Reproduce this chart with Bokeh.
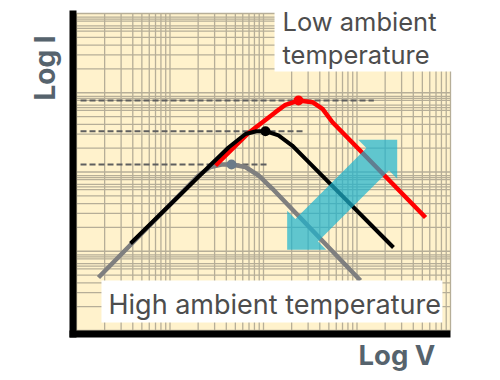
import numpy as np
from bokeh.plotting import figure
from bokeh.models import Range1d
from bokeh.core.properties import value
from bokeh.embed import file_html
from bokeh.resources import INLINE

# ---- data (log V, log I in decades) ----
gray_x = [0.235, 1.166, 1.305, 1.433, 1.551, 1.658, 1.807, 1.947, 2.096, 3.037]
gray_y = [0.669, 1.788, 1.956, 2.063, 2.095, 2.095, 2.063, 1.956, 1.788, 0.631]
black_x = [0.578, 1.444, 1.626, 1.807, 1.925, 2.021, 2.160, 2.307, 2.449, 3.390]
black_y = [1.098, 2.101, 2.309, 2.480, 2.515, 2.515, 2.461, 2.334, 2.166, 1.047]
red_x = [1.487, 1.829, 1.989, 2.128, 2.235, 2.374, 2.524, 2.631, 2.738, 3.733]
red_y = [2.082, 2.482, 2.628, 2.755, 2.848, 2.902, 2.881, 2.797, 2.628, 1.426]

peak_x = [1.658, 2.021, 2.374]
peak_y = [2.095, 2.515, 2.902]
peak_colors = ["#6b7b89", "#000000", "#ff0000"]
dash_start = [0.043, 0.043, 0.043]
dash_end = [2.053, 2.431, 3.180]

arrow_x = [3.430, 3.430, 3.342, 2.583, 2.671, 2.253, 2.253, 2.341, 3.101, 3.013]
arrow_y = [2.406, 1.914, 2.018, 1.122, 1.018, 1.018, 1.510, 1.407, 2.303, 2.406]

decades = [0, 1, 2, 3]
x_minor = [1, 2, 3, 4, 5, 6, 7, 8, 9]
y_minor = [1, 2, 3, 4, 5, 6, 6.5, 7, 8, 8.5, 9]

label_low = ["Low ambient", "temperature"]
label_high = "High ambient temperature"
x_label = "Log V"
y_label = "Log I"

X0, X1 = -0.81283, 4.53476
Y0, Y1 = -0.63091, 4.16404

p = figure(width=500, height=380, x_range=Range1d(X0, X1), y_range=Range1d(Y0, Y1),
           x_axis_type=None, y_axis_type=None, toolbar_location=None,
           output_backend="svg", min_border=0)
p.outline_line_color = None
p.background_fill_color = "white"
p.border_fill_color = "white"

# log paper
p.quad(left=[0], right=[4], bottom=[0], top=[4], fill_color="#fff2cc", line_color=None)
vx = [d + np.log10(k) for d in decades for k in x_minor] + [4.0]
hy = [d + np.log10(k) for d in decades for k in y_minor] + [4.0]
p.segment(x0=vx, y0=[0] * len(vx), x1=vx, y1=[4] * len(vx), line_color="#b6ae98", line_width=1.3)
p.segment(x0=[0] * len(hy), y0=hy, x1=[4] * len(hy), y1=hy, line_color="#b6ae98", line_width=1.3)

# dashed reference lines
p.segment(x0=dash_start, y0=peak_y, x1=dash_end, y1=peak_y, line_color="#5f5f5f",
          line_width=2, line_dash="6 3")

# curves
p.line(gray_x, gray_y, line_color="#7f7f7f", line_width=4.5, line_join="round")
p.line(red_x, red_y, line_color="#ff0000", line_width=4.5, line_join="round")
p.line(black_x, black_y, line_color="#000000", line_width=4, line_join="round")
p.scatter(peak_x, peak_y, size=10, fill_color=peak_colors, line_color=None)

# arrow
p.patch(arrow_x, arrow_y, fill_color="#1db3cf", fill_alpha=0.7, line_color=None)

# white label boxes
p.quad(left=[2.118, 0.267], right=[4.02, 3.914], bottom=[3.268, 0.101], top=[4.03, 0.631],
       fill_color="white", line_color=None)

p.text(x=[2.203, 2.203], y=[3.899, 3.479], text=label_low, text_font=value("Inter"),
       text_font_size="25.5px", text_color="#4d4d4d", text_align="left", text_baseline="alphabetic")
p.text(x=[0.342], y=[0.332], text=[label_high], text_font=value("Inter"),
       text_font_size="27px", text_color="#4d4d4d", text_align="left", text_baseline="alphabetic")

# axes bars
p.quad(left=[-0.0749, -0.0749], right=[0, 4.0], bottom=[-0.0883, -0.0883], top=[4.038, 0],
       fill_color="black", line_color=None)

p.text(x=[3.016], y=[-0.303], text=[x_label], text_font=value("Inter"), text_font_style="bold",
       text_font_size="27.5px", text_color="#56636d", text_align="left", text_baseline="alphabetic")
p.text(x=[-0.342], y=[2.902], text=[y_label], text_font=value("Inter"), text_font_style="bold",
       text_font_size="28px", text_color="#56636d", text_align="left", text_baseline="alphabetic",
       angle=np.pi / 2)

open("out.html", "w").write(file_html(p, INLINE))
